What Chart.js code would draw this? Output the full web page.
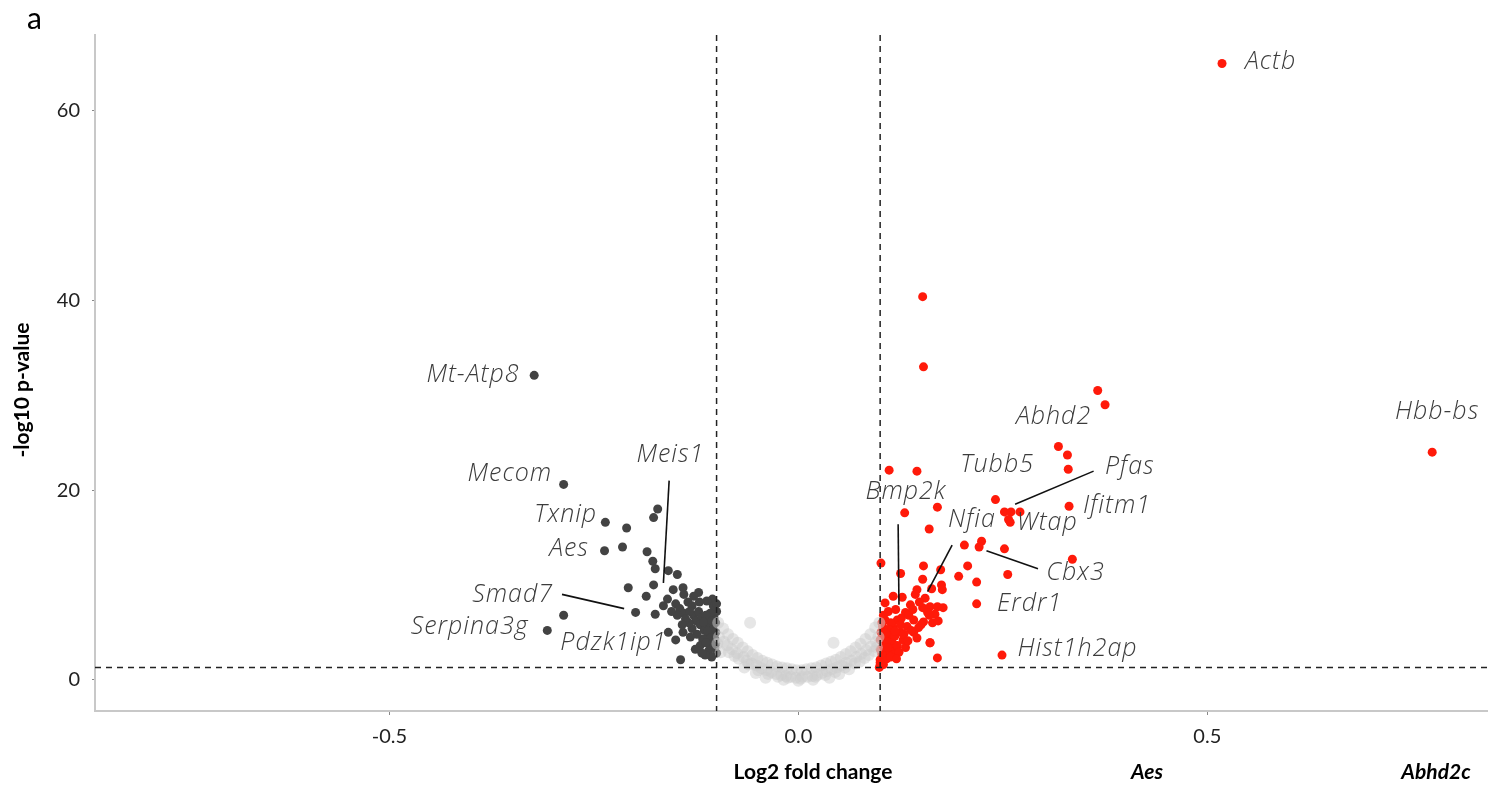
<!DOCTYPE html>
<html>
<head>
<meta charset="utf-8">
<script src="https://cdn.jsdelivr.net/npm/chart.js@4.4.1/dist/chart.umd.min.js"></script>
<style>
html, body { margin: 0; padding: 0; background: #fff; }
#wrap { width: 1498px; height: 788px; position: relative; }
</style>
</head>
<body>
<div id="wrap"><canvas id="chart"></canvas></div>
<script>
// log2 fold change / -log10 p-value
const upPoints = [
    [0.518, 65.0], [0.775, 24.0], [0.152, 40.4], [0.153, 33.0], [0.366, 30.5], [0.375, 29.0],
    [0.318, 24.6], [0.329, 23.7], [0.330, 22.2], [0.331, 18.3], [0.335, 12.7], [0.111, 22.1],
    [0.145, 22.0], [0.130, 17.6], [0.170, 18.2], [0.160, 15.9], [0.241, 19.0], [0.252, 17.7],
    [0.260, 17.7], [0.271, 17.7], [0.257, 16.9], [0.259, 16.6], [0.203, 14.2], [0.224, 14.6],
    [0.221, 14.0], [0.252, 13.8], [0.256, 11.1], [0.207, 12.0], [0.196, 10.9], [0.218, 10.3],
    [0.218, 8.0], [0.249, 2.6], [0.170, 2.3], [0.161, 3.9], [0.101, 12.3], [0.125, 11.2],
    [0.153, 12.0], [0.174, 11.6], [0.152, 10.6], [0.175, 10.0], [0.145, 9.5], [0.163, 9.6],
    [0.176, 9.5], [0.116, 8.8], [0.127, 8.7], [0.143, 9.0], [0.106, 8.1], [0.137, 7.9],
    [0.152, 7.6], [0.161, 7.7], [0.170, 7.7], [0.177, 7.6], [0.110, 7.2], [0.131, 7.1],
    [0.158, 7.1], [0.167, 6.9], [0.106, 6.3], [0.121, 6.3], [0.141, 6.3], [0.153, 6.1],
    [0.164, 6.0], [0.103, 5.6], [0.116, 5.5], [0.133, 5.6], [0.147, 5.5], [0.104, 4.7],
    [0.112, 4.5], [0.125, 5.0], [0.141, 5.0], [0.100, 4.2], [0.115, 3.9], [0.128, 4.2],
    [0.161, 3.9], [0.103, 3.5], [0.115, 3.2], [0.106, 2.8], [0.100, 2.1], [0.104, 1.6],
    [0.099, 1.3], [0.101, 5.0], [0.108, 4.0], [0.112, 3.0], [0.118, 4.6], [0.121, 3.6],
    [0.104, 6.8], [0.113, 6.0], [0.119, 7.4], [0.126, 6.5], [0.135, 6.8], [0.138, 5.2],
    [0.145, 4.4], [0.150, 5.8], [0.108, 2.2], [0.116, 2.6], [0.123, 2.9], [0.131, 3.4],
    [0.102, 2.7], [0.110, 5.3], [0.125, 5.8], [0.140, 7.4], [0.155, 8.6], [0.160, 6.8],
    [0.171, 6.2], [0.148, 8.2], [0.100, 3.2], [0.102, 6.0], [0.107, 4.9], [0.109, 3.4],
    [0.113, 2.4], [0.118, 5.1], [0.120, 2.2], [0.129, 4.8], [0.134, 4.1], [0.100, 1.8]
];
const downPoints = [
    [-0.323, 32.1], [-0.287, 20.6], [-0.236, 16.6], [-0.210, 16.0], [-0.237, 13.6], [-0.215, 14.0],
    [-0.172, 18.0], [-0.177, 17.1], [-0.185, 13.5], [-0.178, 12.5], [-0.175, 11.7], [-0.159, 11.5],
    [-0.148, 11.1], [-0.208, 9.7], [-0.186, 8.8], [-0.177, 10.0], [-0.199, 7.1], [-0.175, 6.9],
    [-0.287, 6.8], [-0.307, 5.2], [-0.144, 2.1], [-0.153, 9.5], [-0.141, 9.7], [-0.122, 9.2],
    [-0.159, 5.0], [-0.150, 4.2], [-0.141, 5.0], [-0.160, 8.5], [-0.150, 8.0], [-0.145, 7.5],
    [-0.140, 7.0], [-0.135, 8.2], [-0.130, 7.8], [-0.128, 6.8], [-0.125, 6.2], [-0.122, 7.2],
    [-0.120, 5.8], [-0.118, 6.6], [-0.115, 5.2], [-0.112, 6.0], [-0.110, 4.6], [-0.108, 5.5],
    [-0.105, 4.0], [-0.103, 6.5], [-0.102, 3.4], [-0.101, 5.0], [-0.100, 2.8], [-0.100, 7.2],
    [-0.104, 7.8], [-0.108, 7.0], [-0.113, 6.8], [-0.117, 4.3], [-0.120, 3.6], [-0.124, 4.8],
    [-0.126, 3.2], [-0.130, 5.4], [-0.134, 6.0], [-0.138, 6.4], [-0.142, 5.8], [-0.148, 6.8],
    [-0.155, 7.2], [-0.165, 7.8], [-0.110, 3.0], [-0.106, 2.4], [-0.114, 2.6], [-0.118, 2.8],
    [-0.105, 8.5], [-0.112, 8.3], [-0.128, 8.8], [-0.140, 9.0], [-0.102, 4.3], [-0.109, 3.7],
    [-0.132, 4.5], [-0.101, 6.0], [-0.106, 6.2], [-0.104, 5.3], [-0.111, 5.1], [-0.116, 6.1],
    [-0.101, 3.8], [-0.107, 4.4], [-0.113, 3.9], [-0.100, 8.0], [-0.121, 8.2], [-0.133, 7.2]
];
const nsPoints = [
    [-0.098, 6.0], [-0.097, 4.5], [-0.099, 3.8], [-0.092, 5.4], [-0.091, 4.0], [-0.086, 4.8],
    [-0.087, 3.6], [-0.085, 2.9], [-0.080, 4.3], [-0.081, 3.2], [-0.074, 3.9], [-0.075, 2.8],
    [-0.073, 2.2], [-0.068, 3.4], [-0.067, 2.4], [-0.062, 3.0], [-0.063, 2.0], [-0.061, 1.6],
    [-0.056, 2.6], [-0.057, 1.7], [-0.050, 2.3], [-0.051, 1.5], [-0.049, 1.0], [-0.044, 2.0],
    [-0.045, 1.2], [-0.038, 1.8], [-0.039, 1.0], [-0.037, 0.6], [-0.032, 1.6], [-0.033, 0.8],
    [-0.026, 1.4], [-0.027, 0.6], [-0.025, 0.3], [-0.020, 1.3], [-0.021, 0.5], [-0.014, 1.2],
    [-0.015, 0.4], [-0.013, 0.2], [-0.008, 1.1], [-0.009, 0.3], [-0.002, 1.0], [-0.003, 0.2],
    [0.004, 1.0], [0.005, 0.3], [0.003, 0.1], [0.010, 1.1], [0.011, 0.3], [0.016, 1.2],
    [0.017, 0.4], [0.022, 1.3], [0.023, 0.5], [0.021, 0.3], [0.028, 1.5], [0.029, 0.7],
    [0.034, 1.7], [0.035, 0.9], [0.033, 0.5], [0.040, 1.9], [0.041, 1.1], [0.046, 2.1],
    [0.047, 1.3], [0.045, 0.8], [0.052, 2.4], [0.053, 1.5], [0.058, 2.7], [0.059, 1.8],
    [0.057, 1.3], [0.064, 3.0], [0.065, 2.0], [0.070, 3.4], [0.071, 2.4], [0.069, 1.7],
    [0.076, 3.8], [0.077, 2.7], [0.082, 4.3], [0.083, 3.1], [0.081, 2.3], [0.088, 4.8],
    [0.089, 3.5], [0.094, 5.5], [0.095, 4.0], [0.093, 3.0], [0.099, 6.0], [0.098, 4.5],
    [-0.059, 6.0], [0.043, 3.9], [-0.095, 2.9], [-0.078, 2.5], [-0.066, 1.3], [-0.052, 0.7],
    [-0.040, 0.2], [-0.018, 0.0], [0.000, -0.1], [0.018, 0.0], [0.038, 0.2], [0.050, 0.6],
    [0.062, 1.1], [0.075, 1.9], [0.086, 2.6], [0.096, 3.4]
];

const xTicks = [-0.5, 0, 0.5];
const yTicks = [0, 20, 40, 60];
const fcCut = [-0.1, 0.1];
const pCut = 1.3;

// gene labels: text, anchor (data units), alignment
const geneLabels = [
    ['Actb', 0.546, 65.2, 'left'], ['Hbb-bs', 0.781, 28.3, 'center'], ['Abhd2', 0.312, 27.7, 'center'],
    ['Tubb5', 0.243, 22.7, 'center'], ['Pfas', 0.375, 22.5, 'left'], ['Ifitm1', 0.348, 18.3, 'left'],
    ['Wtap', 0.267, 16.5, 'left'], ['Nfia', 0.183, 16.9, 'left'], ['Bmp2k', 0.082, 19.8, 'left'],
    ['Cbx3', 0.303, 11.3, 'left'], ['Erdr1', 0.243, 8.0, 'left'], ['Hist1h2ap', 0.268, 3.2, 'left'],
    ['Mt-Atp8', -0.341, 32.1, 'right'], ['Meis1', -0.198, 23.7, 'left'], ['Mecom', -0.301, 21.7, 'right'],
    ['Txnip', -0.246, 17.4, 'right'], ['Aes', -0.256, 13.8, 'right'], ['Smad7', -0.300, 9.0, 'right'],
    ['Serpina3g', -0.330, 5.6, 'right'], ['Pdzk1ip1', -0.291, 3.9, 'left']
];
const connectors = [
    [-0.158, 21.0, -0.165, 10.2], [-0.289, 9.0, -0.213, 7.5], [0.122, 16.4, 0.123, 7.9],
    [0.188, 14.2, 0.158, 9.3], [0.361, 22.0, 0.265, 18.5], [0.230, 13.6, 0.293, 11.7]
];

const toXY = arr => arr.map(p => ({ x: p[0], y: p[1] }));

const overlay = {
    id: 'overlay',
    afterDatasetsDraw(chart) {
        const { ctx, chartArea: a, scales: { x, y } } = chart;
        ctx.save();
        // cut-off lines
        ctx.strokeStyle = '#222';
        ctx.lineWidth = 1.5;
        ctx.setLineDash([6, 5]);
        fcCut.forEach(v => {
            const px = x.getPixelForValue(v);
            ctx.beginPath();
            ctx.moveTo(px, a.top);
            ctx.lineTo(px, a.bottom);
            ctx.stroke();
        });
        const py = y.getPixelForValue(pCut);
        ctx.beginPath();
        ctx.moveTo(a.left, py);
        ctx.lineTo(a.right, py);
        ctx.stroke();
        ctx.setLineDash([]);

        // connectors
        ctx.strokeStyle = '#111';
        ctx.lineWidth = 1.6;
        connectors.forEach(c => {
            ctx.beginPath();
            ctx.moveTo(x.getPixelForValue(c[0]), y.getPixelForValue(c[1]));
            ctx.lineTo(x.getPixelForValue(c[2]), y.getPixelForValue(c[3]));
            ctx.stroke();
        });

        // gene names
        ctx.fillStyle = '#3c3c3c';
        ctx.font = 'italic 300 25px "Open Sans", Lato, sans-serif';
        ctx.letterSpacing = '1px';
        ctx.textBaseline = 'middle';
        geneLabels.forEach(g => {
            ctx.textAlign = g[3];
            ctx.fillText(g[0], x.getPixelForValue(g[1]), y.getPixelForValue(g[2]));
        });
        ctx.restore();
    },
    afterDraw(chart) {
        const ctx = chart.ctx;
        ctx.save();
        ctx.fillStyle = '#000';
        ctx.textBaseline = 'middle';
        ctx.textAlign = 'left';
        ctx.font = '30px Lato, sans-serif';
        ctx.fillText('a', 27, 19);

        ctx.textAlign = 'center';
        ctx.font = 'bold 21px Lato, sans-serif';
        ctx.fillText('Log2 fold change', 813, 772);
        ctx.font = 'italic bold 21px Lato, sans-serif';
        ctx.fillText('Aes', 1147, 772);
        ctx.fillText('Abhd2c', 1436, 772);

        ctx.translate(22, 390);
        ctx.rotate(-Math.PI / 2);
        ctx.font = 'bold 21px Lato, sans-serif';
        ctx.fillText('-log10 p-value', 0, 0);
        ctx.restore();
    }
};

const tickFont = { family: 'Lato, sans-serif', size: 20, weight: 'normal' };

new Chart(document.getElementById('chart').getContext('2d'), {
    type: 'scatter',
    data: {
        datasets: [
            { label: 'ns', data: toXY(nsPoints), backgroundColor: 'rgba(205,205,205,0.5)', borderWidth: 0, pointRadius: 6 },
            { label: 'down', data: toXY(downPoints), backgroundColor: '#434343', borderWidth: 0, pointRadius: 4.5 },
            { label: 'up', data: toXY(upPoints), backgroundColor: '#ff1a0a', borderWidth: 0, pointRadius: 4.5 }
        ]
    },
    options: {
        responsive: true,
        maintainAspectRatio: false,
        animation: false,
        layout: { padding: { top: 35, right: 11, left: 0, bottom: 0 } },
        plugins: { legend: { display: false }, tooltip: { enabled: false } },
        scales: {
            x: {
                type: 'linear',
                min: -0.86,
                max: 0.842,
                border: { color: '#c8c8c8', width: 2 },
                grid: { drawOnChartArea: false, drawTicks: true, tickLength: 4, color: '#888' },
                ticks: {
                    font: tickFont, color: '#222', padding: 10,
                    callback: v => v.toFixed(1)
                },
                afterBuildTicks: s => { s.ticks = xTicks.map(v => ({ value: v })); },
                afterFit: s => { s.height = 77; }
            },
            y: {
                type: 'linear',
                min: -3.3,
                max: 68,
                border: { color: '#c8c8c8', width: 2 },
                grid: { drawOnChartArea: false, drawTicks: true, tickLength: 3, color: '#888' },
                ticks: { font: tickFont, color: '#222', padding: 12 },
                afterBuildTicks: s => { s.ticks = yTicks.map(v => ({ value: v })); },
                afterFit: s => { s.width = 95; }
            }
        }
    },
    plugins: [overlay]
});
</script>
</body>
</html>
